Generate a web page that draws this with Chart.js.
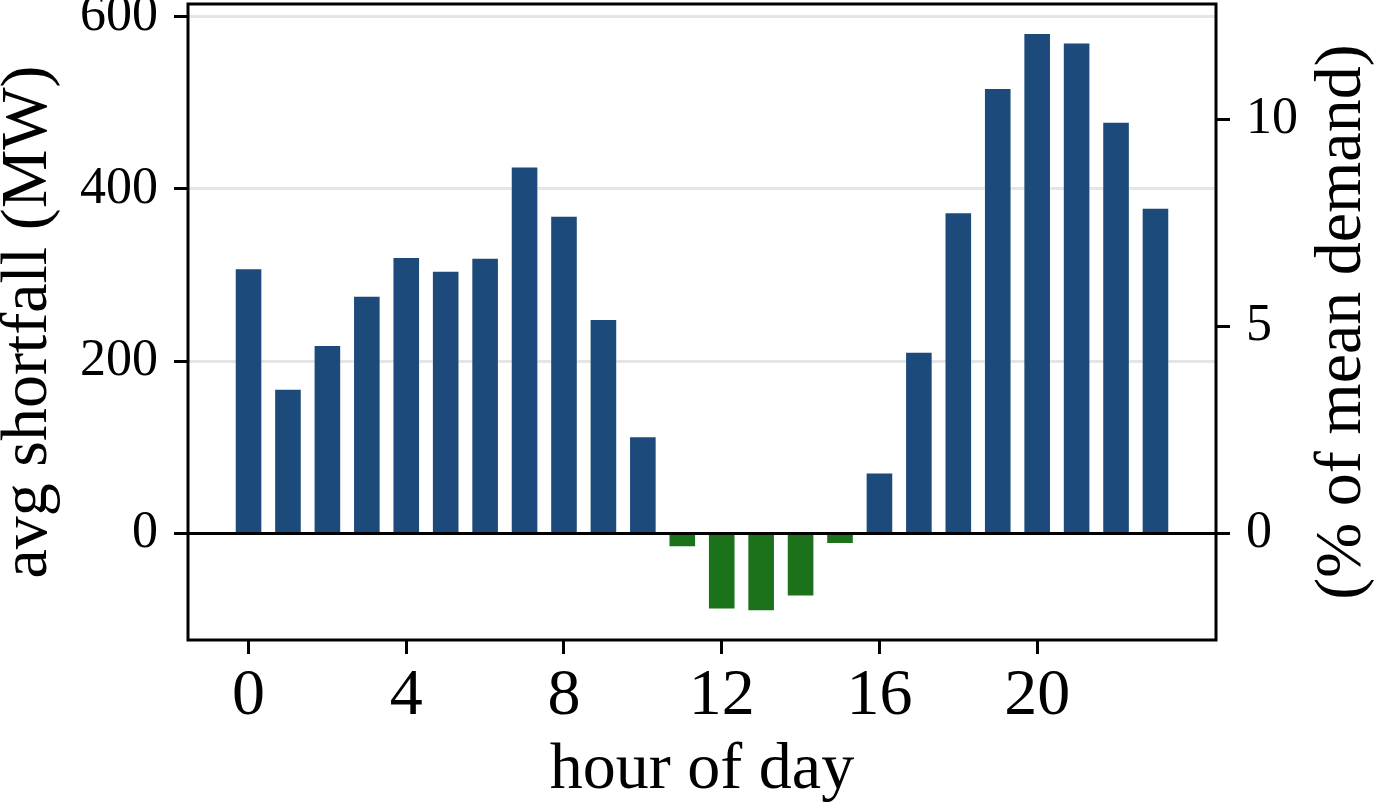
<!DOCTYPE html>
<html>
<head>
<meta charset="utf-8">
<title>avg shortfall by hour of day</title>
<script src="https://cdn.jsdelivr.net/npm/chart.js@4"></script>
<style>
  html, body { margin: 0; padding: 0; background: #fff; }
  #wrap { width: 1378px; height: 809px; position: relative; }
</style>
</head>
<body>
<div id="wrap"><canvas id="bar-chart"></canvas></div>
<script>
// hours 0..23 and average shortfall in MW (negative = surplus)
const hours = [0, 1, 2, 3, 4, 5, 6, 7, 8, 9, 10, 11, 12, 13, 14, 15, 16, 17, 18, 19, 20, 21, 22, 23];
const shortfall = [308, 168, 219, 276, 321, 305, 320, 426, 369, 249, 113, -16,
                   -88, -90, -73, -12, 71, 211, 373, 517, 581, 570, 478, 378];
const xTicks = [0, 4, 8, 12, 16, 20];
const yTicks = [0, 200, 400, 600];
const pctTicks = [0, 5, 10];
const meanDemand = 4805; // MW, 1% of mean demand ~ 48 MW

document.addEventListener("DOMContentLoaded", () => {
  const blue = "#1c4a7b",
    green = "#1b721b",
    yMin = -123.5,
    yMax = 614.6,
    serif = "'Liberation Serif', 'DejaVu Serif', serif";

  Chart.defaults.font.family = serif;
  Chart.defaults.color = "#000";

  const frame = {
    id: "frame",
    afterDraw(chart) {
      const { ctx, chartArea: a } = chart;
      ctx.save();
      ctx.strokeStyle = "#000";
      ctx.lineWidth = 3;
      ctx.strokeRect(a.left, a.top, a.right - a.left, a.bottom - a.top);

      // right axis title reads bottom-to-top like the left one
      ctx.font = "66px " + serif;
      ctx.fillStyle = "#000";
      ctx.textAlign = "center";
      ctx.textBaseline = "middle";
      ctx.translate(1343, (a.top + a.bottom) / 2);
      ctx.rotate(-Math.PI / 2);
      ctx.fillText("(% of mean demand)", 0, 0);
      ctx.restore();
    },
  };

  const setTicks = (list) => (scale) => {
    scale.ticks = list.map((v) => ({ value: v }));
  };

  // fixed box sizes, no extra room for overhanging labels
  const fixSize = (prop, size) => (s) => {
    s[prop] = size;
    s.paddingTop = 0;
    s.paddingBottom = 0;
    s.paddingLeft = 0;
    s.paddingRight = 0;
  };

  const chartData = {
    datasets: [
      {
        data: hours.map((h, i) => ({ x: h, y: shortfall[i] })),
        backgroundColor: shortfall.map((v) => (v < 0 ? green : blue)),
        borderColor: "rgba(255,255,255,0.3)",
        borderWidth: 1,
        barPercentage: 0.7,
        categoryPercentage: 1.0,
      },
    ],
  };

  const chartConfig = {
    type: "bar",
    data: chartData,
    plugins: [frame],
    options: {
      responsive: true,
      maintainAspectRatio: false,
      animation: false,
      layout: { padding: { top: 4, left: 0, right: 0, bottom: 0 } },
      plugins: { legend: { display: false }, tooltip: { enabled: false } },
      scales: {
        x: {
          type: "linear",
          min: -1.535,
          max: 24.535,
          offset: false,
          afterBuildTicks: setTicks(xTicks),
          afterFit: fixSize("height", 169),
          border: { display: false },
          grid: { offset: false, drawOnChartArea: false, tickLength: 14, tickWidth: 3, tickColor: "#000" },
          ticks: { font: { size: 66 }, padding: 3, maxRotation: 0 },
          title: {
            display: true,
            text: "hour of day",
            font: { size: 66, lineHeight: 1.2 },
            padding: { top: 0, bottom: -1 },
          },
        },
        y: {
          position: "left",
          min: yMin,
          max: yMax,
          z: 1,
          afterBuildTicks: setTicks(yTicks),
          afterFit: fixSize("width", 188),
          border: { display: false },
          grid: {
            color: (c) => (c.tick && c.tick.value === 0 ? "#000" : "rgba(190,190,190,0.4)"),
            lineWidth: 3,
            tickLength: 14,
            tickWidth: 3,
            tickColor: "#000",
          },
          ticks: { font: { size: 52 }, padding: 16 },
          title: {
            display: true,
            text: "avg shortfall (MW)",
            font: { size: 66, lineHeight: 1 },
            padding: { top: -4, bottom: 0 },
          },
        },
        y2: {
          position: "right",
          min: (yMin / meanDemand) * 100,
          max: (yMax / meanDemand) * 100,
          afterBuildTicks: setTicks(pctTicks),
          afterFit: fixSize("width", 162),
          border: { display: false },
          grid: { drawOnChartArea: false, tickLength: 14, tickWidth: 3, tickColor: "#000" },
          ticks: { font: { size: 52 }, padding: 16 },
        },
      },
    },
  };

  new Chart(document.getElementById("bar-chart").getContext("2d"), chartConfig);
});
</script>
</body>
</html>
